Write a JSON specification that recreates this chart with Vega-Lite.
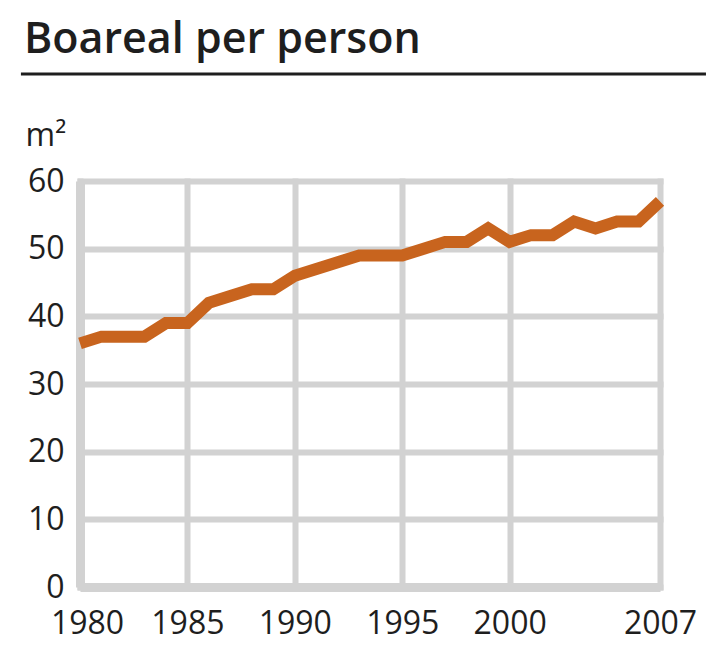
{
  "$schema": "https://vega.github.io/schema/vega-lite/v6.json",
  "autosize": {"type": "none"},
  "width": 580,
  "height": 406,
  "padding": {"left": 80, "top": 181, "right": 46, "bottom": 59},
  "background": "white",
  "title": {
    "text": "Boareal per person",
    "anchor": "start",
    "frame": "group",
    "font": "Open Sans",
    "fontSize": 43,
    "fontWeight": 600,
    "color": "#1e1e1e",
    "baseline": "alphabetic",
    "dx": -56,
    "dy": 40,
    "offset": 17
  },
  "config": {
    "view": {"stroke": null},
    "axis": {
      "labelFont": "Open Sans",
      "labelFontSize": 32,
      "labelColor": "#1e1e1e",
      "ticks": false,
      "grid": true,
      "domainColor": "#d2d2d2",
      "domainWidth": 9,
      "gridColor": "#d2d2d2",
      "gridWidth": 6,
      "gridCap": "square",
      "labelOverlap": false,
      "labelFlush": false
    }
  },
  "data": {
    "values": [
      {"year": 1980, "area": 36},
      {"year": 1981, "area": 37},
      {"year": 1982, "area": 37},
      {"year": 1983, "area": 37},
      {"year": 1984, "area": 39},
      {"year": 1985, "area": 39},
      {"year": 1986, "area": 42},
      {"year": 1987, "area": 43},
      {"year": 1988, "area": 44},
      {"year": 1989, "area": 44},
      {"year": 1990, "area": 46},
      {"year": 1991, "area": 47},
      {"year": 1992, "area": 48},
      {"year": 1993, "area": 49},
      {"year": 1994, "area": 49},
      {"year": 1995, "area": 49},
      {"year": 1996, "area": 50},
      {"year": 1997, "area": 51},
      {"year": 1998, "area": 51},
      {"year": 1999, "area": 53},
      {"year": 2000, "area": 51},
      {"year": 2001, "area": 52},
      {"year": 2002, "area": 52},
      {"year": 2003, "area": 54},
      {"year": 2004, "area": 53},
      {"year": 2005, "area": 54},
      {"year": 2006, "area": 54},
      {"year": 2007, "area": 57}
    ]
  },
  "layer": [
    {
      "data": {"values": [{"kind": "underline"}]},
      "mark": {"type": "rule", "color": "#1e1e1e", "strokeWidth": 3},
      "encoding": {
        "x": {"datum": 1977.25, "type": "quantitative", "scale": {"domain": [1980, 2007], "nice": false, "zero": false}},
        "x2": {"datum": 2009.14},
        "y": {"datum": 75.8, "type": "quantitative", "scale": {"domain": [0, 60], "nice": false}}
      }
    },
    {
      "mark": {"type": "line", "color": "#c8641e", "strokeWidth": 12},
      "encoding": {
        "x": {
          "field": "year",
          "type": "quantitative",
          "scale": {"domain": [1980, 2007], "nice": false, "zero": false},
          "axis": {
            "values": [1980, 1985, 1990, 1995, 2000, 2007],
            "format": "d",
            "title": null,
            "grid": true,
            "labelPadding": 21,
            "labelOffset": {"condition": {"test": "datum.value == 1980", "value": 7}, "value": 0}
          }
        },
        "y": {
          "field": "area",
          "type": "quantitative",
          "scale": {"domain": [0, 60], "nice": false},
          "axis": {
            "values": [0, 10, 20, 30, 40, 50, 60],
            "grid": true,
            "labelPadding": 16,
            "title": "m²",
            "titleFont": "Open Sans",
            "titleFontSize": 32,
            "titleFontWeight": "normal",
            "titleColor": "#1e1e1e",
            "titleAngle": 0,
            "titleAlign": "left",
            "titleBaseline": "alphabetic",
            "titleX": -55,
            "titleY": -36
          }
        }
      }
    }
  ]
}
